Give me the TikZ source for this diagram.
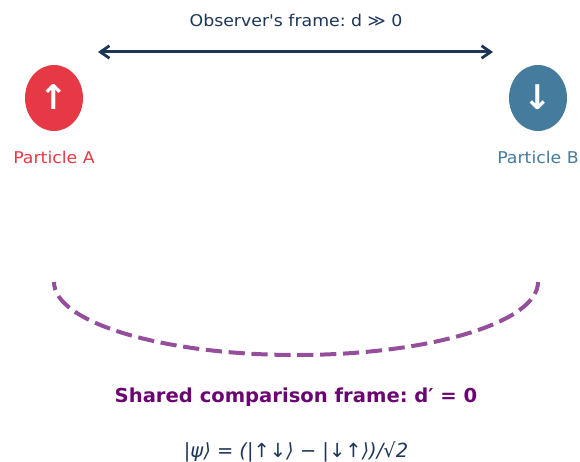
\documentclass[tikz,border=0pt]{standalone}
\usepackage{fontspec}
\setmainfont[Ligatures=TeXOff]{DejaVu Sans}
\newfontfamily\widefam[Ligatures=TeXOff,FakeStretch=1.07]{DejaVu Sans}
\newfontfamily\boldfam[Ligatures=TeXOff,FakeStretch=1.02]{DejaVu Sans Bold}
\usetikzlibrary{arrows.meta,shapes.geometric}
\definecolor{navy}{HTML}{1D3557}
\definecolor{redA}{HTML}{E63946}
\definecolor{blueB}{HTML}{457B9D}
\definecolor{purp}{HTML}{6A0572}
\definecolor{arcp}{HTML}{944E9C}
\tikzset{
  particle/.style={ellipse,minimum width=58pt,minimum height=66pt,inner sep=0pt,text=white,font=\fontsize{34}{36}\selectfont\bfseries},
  lbl/.style={font=\widefam\fontsize{16.2}{20}\selectfont\frenchspacing,inner sep=0pt},
  barb/.tip={Straight Barb[length=9pt,width=12.5pt,line width=2.8pt]},
}
\begin{document}
\begin{tikzpicture}[x=1pt,y=-1pt]
\useasboundingbox (0,0) rectangle (580,462);
\node[particle,fill=redA] (a) at (54,98) {\raisebox{2pt}{↑}};
\node[particle,fill=blueB] (b) at (538,98) {\raisebox{2pt}{↓}};
\node[lbl,text=redA] (la) at (54,157.5) {Particle A};
\node[lbl,text=blueB] (lb) at (538,157.5) {Particle B};
\node[lbl,text=navy] (obs) at (296,20.5) {Observer's frame: d ≫ 0};
\coordinate (l) at (98,52);
\coordinate (r) at (493,52);
\draw[navy,line width=3pt,{barb}-{barb}] (l) -- (r);
\coordinate (s) at (54,282);
\draw[arcp,line width=4pt,dash pattern=on 16.2pt off 6.7pt,dash phase=8pt] (s) arc[start angle=180,end angle=0,x radius=242,y radius=73];
\node[font=\boldfam\fontsize{19.2}{22}\selectfont\frenchspacing,text=purp,inner sep=0pt] (sh) at (296,396.7) {Shared comparison frame: d′ = 0};
\node[font=\fontsize{19.45}{22}\selectfont\itshape\frenchspacing,text=navy,inner sep=0pt] (f) at (296,451.7) {|ψ⟩ = (|↑↓⟩ − |↓↑⟩)/√2};
\end{tikzpicture}
\end{document}
